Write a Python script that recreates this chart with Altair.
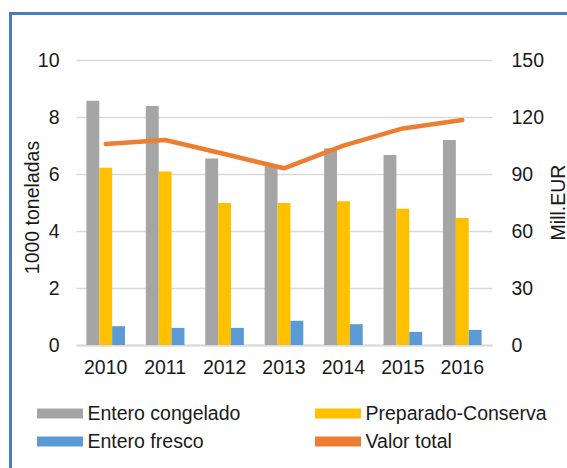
import altair as alt
import pandas as pd

years = ["2010", "2011", "2012", "2013", "2014", "2015", "2016"]
congelado = [8.57, 8.39, 6.54, 6.3, 6.9, 6.67, 7.19]
preparado = [6.22, 6.09, 4.98, 4.98, 5.04, 4.78, 4.46]
fresco = [0.66, 0.60, 0.60, 0.85, 0.73, 0.46, 0.53]
valor_total = [105.8, 107.9, 100.5, 93.0, 104.9, 114.0, 118.4]

series_names = ["Entero congelado", "Preparado-Conserva", "Entero fresco", "Valor total"]
colors = ["#a5a5a5", "#ffc000", "#5b9bd5", "#ed7d31"]
# legend fills column by column: (congelado, fresco) | (preparado, valor)
legend_order = ["Entero congelado", "Entero fresco", "Preparado-Conserva", "Valor total"]
left_ticks = [0, 2, 4, 6, 8, 10]
right_ticks = [0, 30, 60, 90, 120, 150]

rows = []
for name, vals in zip(["Entero congelado", "Preparado-Conserva", "Entero fresco"],
                      [congelado, preparado, fresco]):
    for yr, v in zip(years, vals):
        rows.append({"year": yr, "serie": name, "value": v})
bars_df = pd.DataFrame(rows)
line_df = pd.DataFrame({"year": years, "serie": ["Valor total"] * len(years), "value": valor_total})

FONT = "Liberation Sans"
TXT = "#1a1a1a"
color_scale = alt.Scale(domain=series_names, range=colors)

x_enc = alt.X(
    "year:N",
    scale=alt.Scale(paddingInner=0.35, paddingOuter=0.175),
    axis=alt.Axis(title=None, labelAngle=0, labelPadding=13, ticks=False,
                  domain=True, domainColor="#d9d9d9", domainWidth=2),
)

frame = alt.Chart(alt.Data(values=[{"k": 1}])).mark_rect(
    fillOpacity=0, stroke="#4a7ebb", strokeWidth=3
).encode(
    x=alt.value(-65.5), x2=alt.value(600), y=alt.value(-46.5), y2=alt.value(600)
)

bars = alt.Chart(bars_df).mark_bar().encode(
    x=x_enc,
    xOffset=alt.XOffset("serie:N", sort=["Entero congelado", "Preparado-Conserva", "Entero fresco"],
                        scale=alt.Scale(paddingInner=0, paddingOuter=0)),
    y=alt.Y("value:Q", scale=alt.Scale(domain=[0, 10]),
            axis=alt.Axis(title="1000 toneladas", values=left_ticks, grid=True,
                          gridColor="#d9d9d9", gridWidth=1.5, ticks=False, domain=False,
                          labelPadding=17, titleX=-38, titleY=147, titleAngle=270,
                          titleBaseline="alphabetic", titleAlign="center")),
    color=alt.Color("serie:N", scale=color_scale, sort=series_names,
                    legend=alt.Legend(title=None, orient="none", legendX=-27.5, legendY=342,
                                      columns=2, values=legend_order,
                                      symbolType="M-2,-0.44H2V0.44H-2Z",
                                      symbolSize=529, symbolStrokeWidth=0,
                                      labelFontSize=19.5, labelFont=FONT, labelColor=TXT,
                                      labelLimit=400,
                                      labelOffset=16, columnPadding=74, rowPadding=7)),
)

line = alt.Chart(line_df).mark_line(strokeWidth=4.5, strokeCap="round", strokeJoin="round").encode(
    x=alt.X("year:N"),
    y=alt.Y("value:Q", scale=alt.Scale(domain=[0, 150]),
            axis=alt.Axis(orient="right", title="Mill.EUR", values=right_ticks, grid=False,
                          ticks=False, domain=False, labelPadding=19, titleX=72, titleY=142,
                          titleAngle=270, titleBaseline="alphabetic", titleAlign="center")),
    color=alt.Color("serie:N", scale=color_scale, sort=series_names),
)

chart = alt.layer(frame, bars, line).resolve_scale(y="independent").properties(
    width=416, height=285,
    autosize=alt.AutoSizeParams(type="none"),
    padding={"left": 76, "top": 60, "right": 75, "bottom": 123},
).configure(font=FONT).configure_view(strokeWidth=0).configure_axis(
    labelFont=FONT, labelFontSize=19.5, labelColor=TXT,
    titleFont=FONT, titleFontSize=19.5, titleColor=TXT, titleFontWeight="normal",
)

chart.save("out.html", embed_options={"renderer": "svg", "actions": False})
